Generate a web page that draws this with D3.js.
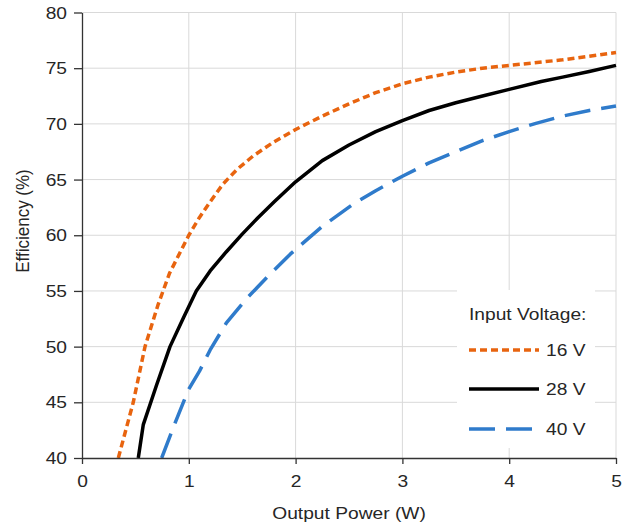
<!DOCTYPE html>
<html>
<head>
<meta charset="utf-8">
<script src="https://cdn.jsdelivr.net/npm/d3@7/dist/d3.min.js"></script>
<style>
  html, body { margin: 0; padding: 0; background: #fff; }
  svg { display: block; }
  text { font-family: "Liberation Sans", Arial, sans-serif; fill: #262626; }
</style>
</head>
<body>
<svg id="chart" width="632" height="529"></svg>
<script>
// Efficiency vs. output power for three input voltages
const xTicks = [0, 1, 2, 3, 4, 5];
const yTicks = [40, 45, 50, 55, 60, 65, 70, 75, 80];

const power16 = [0.34, 0.48, 0.59, 0.71, 0.82, 1.0, 1.1, 1.2, 1.32, 1.45, 1.6, 1.8, 2.0, 2.25, 2.5, 2.75, 3.0, 3.25, 3.5, 3.75, 4.0, 4.5, 5.0];
const eff16   = [40, 45, 50, 53.7, 56.6, 60, 61.6, 63.0, 64.6, 65.9, 67.1, 68.4, 69.5, 70.7, 71.8, 72.8, 73.6, 74.2, 74.65, 75.0, 75.25, 75.75, 76.4];

const power28 = [0.527, 0.574, 0.70, 0.824, 0.95, 1.07, 1.2, 1.35, 1.5, 1.65, 1.8, 2.0, 2.25, 2.5, 2.75, 3.0, 3.25, 3.5, 3.75, 4.0, 4.3, 4.5, 4.75, 5.0];
const eff28   = [40, 43, 46.6, 50, 52.6, 55, 56.8, 58.5, 60.1, 61.6, 63.0, 64.8, 66.7, 68.1, 69.3, 70.3, 71.2, 71.9, 72.5, 73.1, 73.8, 74.2, 74.7, 75.25];

const power40 = [0.746, 0.87, 0.995, 1.1, 1.2, 1.35, 1.54, 1.75, 1.95, 2.25, 2.54, 2.75, 3.0, 3.25, 3.5, 3.75, 4.0, 4.25, 4.5, 4.75, 5.0];
const eff40   = [40, 43.1, 46.1, 47.8, 49.7, 52.1, 54.3, 56.4, 58.3, 60.8, 62.8, 64.0, 65.3, 66.5, 67.5, 68.5, 69.3, 70.05, 70.7, 71.2, 71.6];

const seriesNames  = ["16 V", "28 V", "40 V"];
const seriesColors = ["#e8640f", "#000000", "#2f7bcb"];
const seriesDashes = ["7,4", null, "26,11"];

const series = [
  { name: seriesNames[0], xs: power16, ys: eff16, color: seriesColors[0], dash: seriesDashes[0] },
  { name: seriesNames[1], xs: power28, ys: eff28, color: seriesColors[1], dash: seriesDashes[1] },
  { name: seriesNames[2], xs: power40, ys: eff40, color: seriesColors[2], dash: seriesDashes[2] }
];

const svg = d3.select("#chart");
const FS = 17;          // font size
const SX = 1.13;        // horizontal text stretch

const x = d3.scaleLinear().domain([0, 5]).range([82, 616]);
const y = d3.scaleLinear().domain([40, 80]).range([458, 12.5]);

// grid
const grid = svg.append("g").attr("stroke", "#d9d9d9").attr("stroke-width", 1);
xTicks.filter(d => d > 0).forEach(d => {
  grid.append("line").attr("x1", x(d)).attr("x2", x(d)).attr("y1", y(40)).attr("y2", y(80));
});
yTicks.filter(d => d > 40).forEach(d => {
  grid.append("line").attr("x1", x(0)).attr("x2", x(5)).attr("y1", y(d)).attr("y2", y(d));
});

// legend background
svg.append("rect")
  .attr("x", 457).attr("y", 290).attr("width", 138).attr("height", 158)
  .attr("fill", "#fff");

// curves
const line = d3.line().x(d => x(d[0])).y(d => y(d[1])).curve(d3.curveLinear);
svg.append("clipPath").attr("id", "plotclip")
  .append("rect").attr("x", x(0)).attr("y", y(80) - 5).attr("width", x(5) - x(0) + 5).attr("height", y(40) - y(80) + 5);

svg.append("g").attr("clip-path", "url(#plotclip)")
  .selectAll("path").data(series).join("path")
  .attr("d", s => line(s.xs.map((v, i) => [v, s.ys[i]])))
  .attr("fill", "none")
  .attr("stroke", s => s.color)
  .attr("stroke-width", 3.5)
  .attr("stroke-linejoin", "round")
  .attr("stroke-dasharray", s => s.dash);

// axes
const axisColor = "#333";
const yAxis = svg.append("g").attr("transform", `translate(${x(0)},0)`)
  .call(d3.axisLeft(y).tickValues(yTicks).tickFormat(d3.format("d")).tickSize(8).tickPadding(0).tickSizeOuter(0));
const xAxis = svg.append("g").attr("transform", `translate(0,${y(40)})`)
  .call(d3.axisBottom(x).tickValues(xTicks).tickFormat(d3.format("d")).tickSize(6).tickPadding(0).tickSizeOuter(0));

[xAxis, yAxis].forEach(g => {
  g.select(".domain").attr("stroke", axisColor).attr("stroke-width", 1.3);
  g.selectAll(".tick line").attr("stroke", axisColor).attr("stroke-width", 1.3);
  g.selectAll("text").attr("font-size", FS).attr("font-family", "Liberation Sans, Arial, sans-serif").attr("fill", "#262626");
});
yAxis.selectAll(".tick text")
  .attr("x", 0).attr("dy", null).attr("y", 0)
  .attr("dominant-baseline", "central")
  .attr("transform", `translate(-15,0) scale(${SX},1)`);
xAxis.selectAll(".tick text")
  .attr("y", 0).attr("dy", null)
  .attr("transform", `translate(0,29) scale(${SX},1)`);

// axis titles
svg.append("text")
  .attr("transform", `translate(${(x(0) + x(5)) / 2},519) scale(${SX},1)`)
  .attr("text-anchor", "middle").attr("font-size", FS)
  .text("Output Power (W)");

svg.append("text")
  .attr("transform", `translate(29,221) scale(${SX},1) rotate(-90)`)
  .attr("text-anchor", "middle").attr("font-size", FS)
  .text("Efficiency (%)");

// legend
const lg = svg.append("g");
lg.append("text")
  .attr("transform", `translate(469,320) scale(${SX},1)`)
  .attr("font-size", FS).text("Input Voltage:");
const rowY = [350, 389, 429];
series.forEach((s, i) => {
  lg.append("line")
    .attr("x1", 469).attr("x2", 539).attr("y1", rowY[i]).attr("y2", rowY[i])
    .attr("stroke", s.color).attr("stroke-width", 3.5)
    .attr("stroke-dasharray", s.dash);
  lg.append("text")
    .attr("transform", `translate(546,${rowY[i] + 6}) scale(${SX},1)`)
    .attr("font-size", FS).text(s.name);
});
</script>
</body>
</html>
